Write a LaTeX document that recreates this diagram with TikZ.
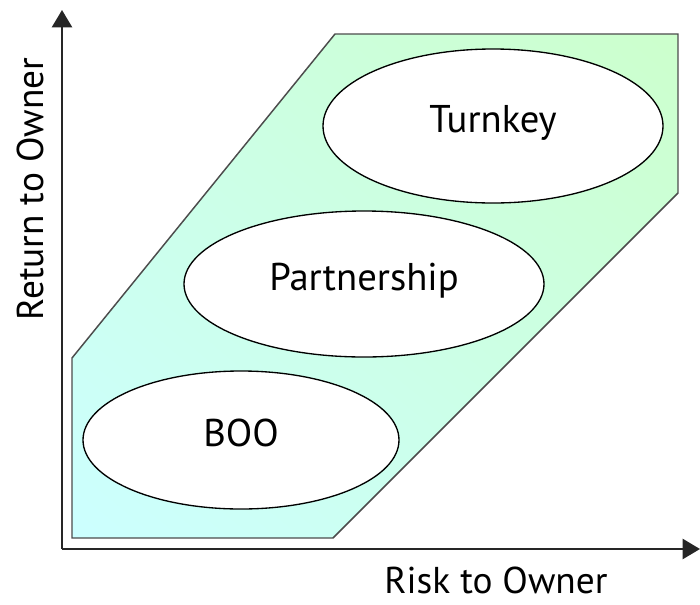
\documentclass[tikz,border=0pt]{standalone}
\usepackage{fontspec}
\setmainfont{PT Sans}
\usetikzlibrary{shapes.geometric,arrows.meta,shadings}
\definecolor{lowcyan}{HTML}{CCFFFF}
\definecolor{highgreen}{HTML}{CCFFCC}
\definecolor{midmix}{HTML}{CCFFE6}
\begin{document}
\begin{tikzpicture}[x=0.75pt,y=-0.75pt,
  axis/.style={line width=1.8pt, draw=black!85, -{Triangle[width=15pt,length=13pt]}},
  region/.style={draw=black!70, line width=1.1pt},
  deal/.style={ellipse, draw, line width=1pt, fill=white, inner sep=0pt, text height=20pt, text depth=10pt, font=\fontsize{29}{34}\selectfont},
  axislabel/.style={inner sep=0pt, font=\fontsize{28}{32}\selectfont}]
\useasboundingbox (0,0) rectangle (700,604);
\shade[region, lower left=lowcyan, upper right=highgreen, upper left=midmix, lower right=midmix]
  (72,358) -- (72,538) -- (333,538) -- (678,193) -- (678,34) -- (335,34) -- cycle;
\node[deal, minimum width=255pt, minimum height=115.5pt] (turnkey) at (493,126) {Turnkey};
\node[deal, minimum width=270pt, minimum height=109.5pt] (partner) at (364,284) {Partnership};
\node[deal, minimum width=237pt, minimum height=103.5pt] (boo) at (241,440) {BOO};
\coordinate (origin) at (62,549);
\coordinate (ytop) at (62,10);
\coordinate (xend) at (700,549);
\draw[axis] (origin) -- (ytop);
\draw[axis] (origin) -- (xend);
\node[axislabel, rotate=90] (returnlabel) at (30,189) {Return to Owner};
\node[axislabel] (risklabel) at (496,580) {Risk to Owner};
\end{tikzpicture}
\end{document}
